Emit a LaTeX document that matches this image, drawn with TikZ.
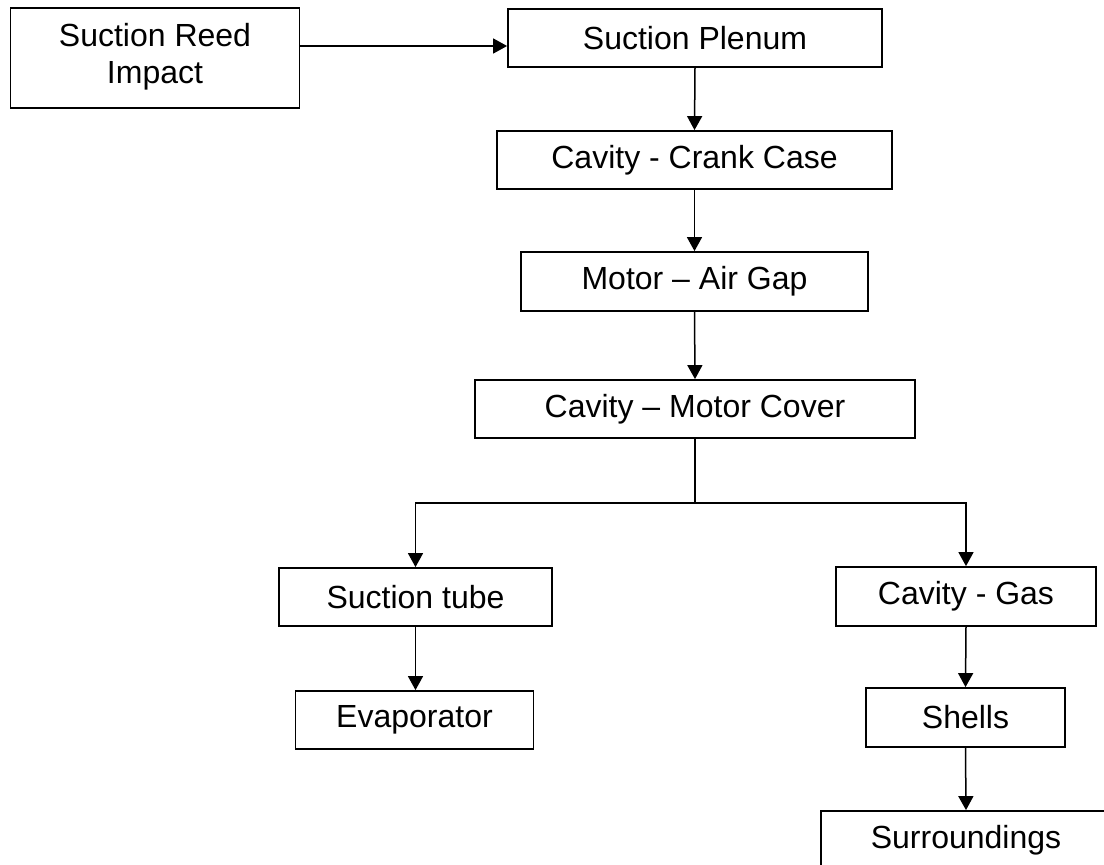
\documentclass[tikz,border=0pt]{standalone}
\usepackage{fontspec}
\setmainfont{Liberation Sans}
\usetikzlibrary{arrows.meta}
\begin{document}
\begin{tikzpicture}[x=1pt,y=-1pt,
  box/.style={draw=black, line width=1.8pt, fill=white, inner sep=0pt, align=center,
    font=\fontsize{32pt}{37pt}\selectfont},
  arr/.style={line width=1.5pt, -{Triangle[length=14pt,width=15pt]}},
  ln/.style={line width=1.5pt}]
\useasboundingbox (0,0) rectangle (1104,865);
\fill[white] (0,0) rectangle (1104,865);
\node[box, minimum width=289pt, minimum height=100pt] (reed) at (155,58) {\raisebox{-3pt}{\begin{tabular}{@{}c@{}}Suction Reed\\Impact\end{tabular}}};
\node[box, minimum width=374pt, minimum height=58pt] (plenum) at (695,38) {Suction Plenum};
\node[box, minimum width=395pt, minimum height=58pt] (crank) at (694.5,160) {Cavity - Crank Case};
\node[box, minimum width=347pt, minimum height=59pt] (airgap) at (694.5,281.5) {Motor – Air Gap};
\node[box, minimum width=440pt, minimum height=58pt] (cover) at (695,409) {Cavity – Motor Cover};
\node[box, minimum width=273pt, minimum height=58pt] (tube) at (415.5,597) {Suction tube};
\node[box, minimum width=260pt, minimum height=59pt] (gas) at (966,596.5) {Cavity - Gas};
\node[box, minimum width=238pt, minimum height=58pt] (evap) at (414.5,720) {Evaporator};
\node[box, minimum width=199pt, minimum height=59pt] (shells) at (965.5,717.5) {Shells};
\node[box, minimum width=290pt, minimum height=58pt] (surr) at (966,840) {Surroundings};
\coordinate (a) at (0,46);
\coordinate (j) at (695,503);
\draw[arr] (reed.east |- a) -- (plenum.west |- a);
\draw[arr] (plenum.south) -- (crank.north);
\draw[arr] (crank.south) -- (airgap.north);
\draw[arr] (airgap.south) -- (cover.north);
\draw[ln] (cover.south) -- (j);
\draw[arr] (j) -| (tube.north);
\draw[arr] (j) -| (gas.north);
\draw[arr] (tube.south) -- (evap.north -| tube.south);
\draw[arr] (gas.south) -- (shells.north);
\draw[arr] (shells.south) -- (surr.north);
\end{tikzpicture}
\end{document}
